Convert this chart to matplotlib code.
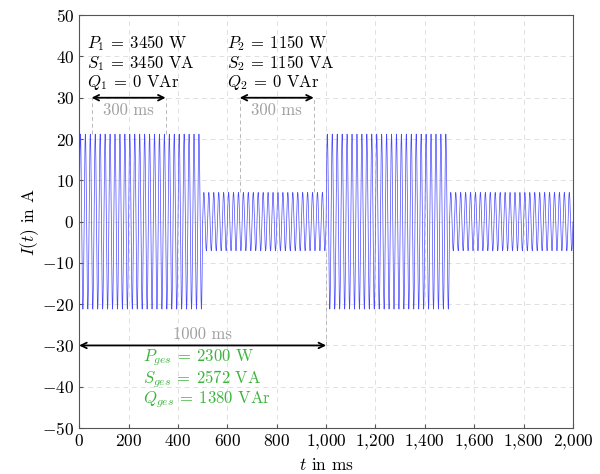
import numpy as np
import matplotlib
matplotlib.use("Agg")
import matplotlib.pyplot as plt

plt.rcParams['font.family'] = 'serif'
plt.rcParams['font.serif'] = ['cmr10', 'DejaVu Serif']
plt.rcParams['mathtext.fontset'] = 'cm'
plt.rcParams['axes.unicode_minus'] = False

# Abschnitte des Stromverlaufs (ms) und Scheitelwerte (A)
seg_start = [0, 500, 1000, 1500]
seg_end = [500, 1000, 1500, 2000]
amplitude = [21.2, 7.07, 21.2, 7.07]
f_netz = 50  # Hz

x_ticks = [0, 200, 400, 600, 800, 1000, 1200, 1400, 1600, 1800, 2000]
x_labels = ['0', '200', '400', '600', '800', '1{,}000', '1{,}200', '1{,}400',
            '1{,}600', '1{,}800', '2{,}000']
y_ticks = [-50, -40, -30, -20, -10, 0, 10, 20, 30, 40, 50]

text1 = [r'$P_1\:=\:3450$ W', r'$S_1\:=\:3450$ VA', r'$Q_1\:=\:0$ VAr']
text2 = [r'$P_2\:=\:1150$ W', r'$S_2\:=\:1150$ VA', r'$Q_2\:=\:0$ VAr']
text_ges = [r'$P_{ges}\:=\:2300$ W', r'$S_{ges}\:=\:2572$ VA',
            r'$Q_{ges}\:=\:1380$ VAr']

fig, ax = plt.subplots(figsize=(6, 4.74), dpi=100)
fig.subplots_adjust(left=0.132, right=0.955, top=0.968, bottom=0.097)

for a, b, amp in zip(seg_start, seg_end, amplitude):
    t = np.arange(a, b + 0.05, 0.1)
    ax.plot(t, amp * np.sin(2 * np.pi * f_netz * t / 1000), color='#4848ff',
            lw=0.5, zorder=3)

ax.set_xlim(0, 2000)
ax.set_ylim(-50, 50)
ax.set_xticks(x_ticks)
ax.set_xticklabels(['$' + s + '$' for s in x_labels])
ax.set_yticks(y_ticks)
ax.set_yticklabels(['$%d$' % v for v in y_ticks])
ax.tick_params(direction='in', length=3, labelsize=12.5, color='#555555')
ax.grid(True, linestyle=(0, (5, 4)), color='#e0e0e0', lw=0.7)
for s in ax.spines.values():
    s.set_color('#555555')
ax.set_xlabel('$t$ in ms', fontsize=12.5)
ax.set_ylabel('$I(t)$ in A', fontsize=12.5, labelpad=1)

# Hilfslinien
gray = '#a0a0a0'
dash = (0, (4, 3))
for x, y0 in [(50, 21.2), (350, 21.2), (650, 7.07), (950, 7.07)]:
    ax.plot([x, x], [y0, 30], color='#b8b8b8', lw=0.7, ls=dash, zorder=2)
ax.plot([1000, 1000], [-30, -7.07], color='#b8b8b8', lw=0.7, ls=dash, zorder=2)

arrow = dict(arrowstyle='<->', color='black', lw=1.3, shrinkA=0, shrinkB=0)
ax.annotate('', xy=(50, 30), xytext=(350, 30), arrowprops=arrow)
ax.annotate('', xy=(650, 30), xytext=(950, 30), arrowprops=arrow)
ax.annotate('', xy=(0, -30), xytext=(1000, -30), arrowprops=arrow)

ax.text(200, 27.0, '300 ms', color=gray, fontsize=12, ha='center', va='center')
ax.text(800, 27.0, '300 ms', color=gray, fontsize=12, ha='center', va='center')
ax.text(500, -27.3, '1000 ms', color=gray, fontsize=12, ha='center', va='center')

for i, y in enumerate([43.2, 38.4, 33.6]):
    ax.text(31, y, text1[i], fontsize=12, va='center', ha='left')
    ax.text(599, y, text2[i], fontsize=12, va='center', ha='left')
for i, y in enumerate([-33.0, -38.2, -43.1]):
    ax.text(258, y, text_ges[i], fontsize=12, va='center', ha='left',
            color='#3cb43c')

fig.savefig('out.png', dpi=100)
